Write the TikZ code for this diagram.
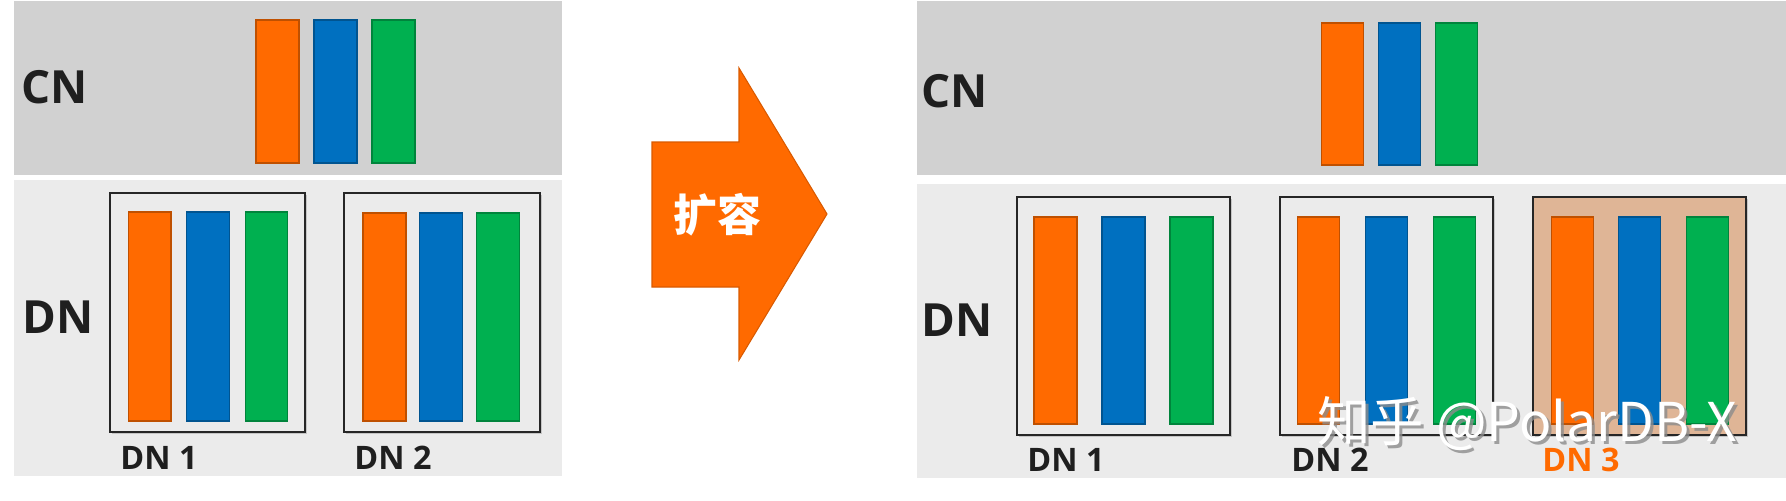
\documentclass[tikz,border=0pt]{standalone}
\usepackage{fontspec}
\setsansfont{Open Sans}
\newfontfamily\cjk{Noto Sans CJK SC}
\usetikzlibrary{shadows}

\definecolor{cnband}{HTML}{D1D1D1}
\definecolor{dnband}{HTML}{EBEBEB}
\definecolor{shardA}{HTML}{FF6A00}
\definecolor{shardB}{HTML}{0070C0}
\definecolor{shardC}{HTML}{00B050}
\definecolor{newdn}{HTML}{DFB596}

\tikzset{
  layerlbl/.style={font=\sffamily\bfseries\fontsize{13}{13}\selectfont, text=black!88},
  dnlbl/.style={font=\sffamily\bfseries\fontsize{9.2}{9.2}\selectfont, text=black!88},
  dnbox/.style={draw=black!85, line width=0.4pt, fill=#1,
    drop shadow={shadow xshift=0.7pt, shadow yshift=-0.7pt, opacity=0.35}},
  dnbox/.default=dnband,
  marktext/.style={font=\cjk\fontsize{15.2}{15.2}\selectfont},
}

% three shards: x of first bar, pitch, width, top, bottom
\newcommand{\shards}[5]{%
  \foreach \c [count=\i from 0] in {shardA,shardB,shardC}
    \filldraw[fill=\c, draw=\c!75!black, line width=0.3pt]
      ({#1+\i*#2},#4) rectangle ++(#3,{#5-#4});}

\begin{document}
\begin{tikzpicture}[x=0.01cm, y=-0.01cm]
  \useasboundingbox (0,0) rectangle (1786,500);

  % before
  \fill[cnband] (14,1) rectangle (562,175);
  \fill[dnband] (14,180) rectangle (562,476);
  \node[layerlbl] (cnA) at (55,87) {CN};
  \node[layerlbl] (dnA) at (58,317) {DN};
  \shards{256}{58}{43}{20}{163}

  \draw[dnbox] (110,193) rectangle (305,432);
  \shards{128.5}{58.3}{42.5}{212}{421}
  \node[dnlbl] (dnA1) at (159,458) {DN 1};

  \draw[dnbox] (344,193) rectangle (540,432);
  \shards{363}{56.7}{43}{213}{421}
  \node[dnlbl] (dnA2) at (393,458) {DN 2};

  % scale out arrow
  \filldraw[fill=shardA, draw=shardA!85!black, line width=0.3pt]
    (652,142) -- (739,142) -- (739,68) -- (827,214) -- (739,360)
    -- (739,287) -- (652,287) -- cycle;
  \node[font=\cjk\bfseries\fontsize{12.5}{12.5}\selectfont, text=white] (grow) at (717,215) {扩容};

  % after
  \fill[cnband] (917,1) rectangle (1786,175);
  \fill[dnband] (917,184) rectangle (1786,478);
  \node[layerlbl] (cnB) at (955,91) {CN};
  \node[layerlbl] (dnB) at (957,320) {DN};
  \shards{1321}{57}{42}{23}{165}

  \draw[dnbox] (1017,197) rectangle (1230,435);
  \shards{1034}{68}{43}{217}{424}
  \node[dnlbl] (dnB1) at (1066,460) {DN 1};

  \draw[dnbox] (1280,197) rectangle (1493,435);
  \shards{1297}{68}{42}{217}{424}
  \node[dnlbl] (dnB2) at (1330,460) {DN 2};

  \draw[dnbox=newdn] (1533,197) rectangle (1746,435);
  \shards{1551}{67.5}{42}{217}{424}
  \node[dnlbl, text=shardA] (dnB3) at (1581,460) {DN 3};

  % watermark
  \node[marktext, text=black!45, opacity=0.8] (markS) at (1530,427) {知乎 @PolarDB-X};
  \node[marktext, text=white] (mark) at (1527,424) {知乎 @PolarDB-X};
\end{tikzpicture}
\end{document}
